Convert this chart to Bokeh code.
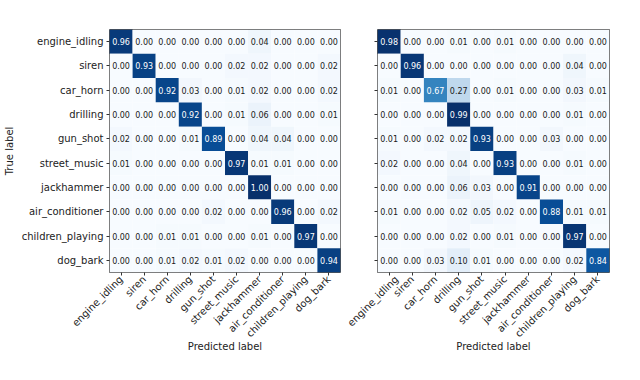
import math
from bokeh.plotting import figure
from bokeh.layouts import row
from bokeh.models import FactorRange, ColumnDataSource, LinearColorMapper
from bokeh.core.properties import value
from bokeh.palettes import Blues256
from bokeh.embed import file_html
from bokeh.resources import INLINE

classes = ["engine_idling", "siren", "car_horn", "drilling", "gun_shot",
           "street_music", "jackhammer", "air_conditioner", "children_playing", "dog_bark"]

cm_left = [
    [0.96, 0.00, 0.00, 0.00, 0.00, 0.00, 0.04, 0.00, 0.00, 0.00],
    [0.00, 0.93, 0.00, 0.00, 0.00, 0.02, 0.02, 0.00, 0.00, 0.02],
    [0.00, 0.00, 0.92, 0.03, 0.00, 0.01, 0.02, 0.00, 0.00, 0.02],
    [0.00, 0.00, 0.00, 0.92, 0.00, 0.01, 0.06, 0.00, 0.00, 0.01],
    [0.02, 0.00, 0.00, 0.01, 0.89, 0.00, 0.04, 0.04, 0.00, 0.00],
    [0.01, 0.00, 0.00, 0.00, 0.00, 0.97, 0.01, 0.01, 0.00, 0.00],
    [0.00, 0.00, 0.00, 0.00, 0.00, 0.00, 1.00, 0.00, 0.00, 0.00],
    [0.00, 0.00, 0.00, 0.00, 0.02, 0.00, 0.00, 0.96, 0.00, 0.02],
    [0.00, 0.00, 0.01, 0.01, 0.00, 0.00, 0.01, 0.00, 0.97, 0.00],
    [0.00, 0.00, 0.01, 0.02, 0.01, 0.02, 0.00, 0.00, 0.00, 0.94],
]

cm_right = [
    [0.98, 0.00, 0.00, 0.01, 0.00, 0.01, 0.00, 0.00, 0.00, 0.00],
    [0.00, 0.96, 0.00, 0.00, 0.00, 0.00, 0.00, 0.00, 0.04, 0.00],
    [0.01, 0.00, 0.67, 0.27, 0.00, 0.01, 0.00, 0.00, 0.03, 0.01],
    [0.00, 0.00, 0.00, 0.99, 0.00, 0.00, 0.00, 0.00, 0.01, 0.00],
    [0.01, 0.00, 0.02, 0.02, 0.93, 0.00, 0.00, 0.03, 0.00, 0.00],
    [0.02, 0.00, 0.00, 0.04, 0.00, 0.93, 0.00, 0.00, 0.01, 0.00],
    [0.00, 0.00, 0.00, 0.06, 0.03, 0.00, 0.91, 0.00, 0.00, 0.00],
    [0.01, 0.00, 0.00, 0.02, 0.05, 0.02, 0.00, 0.88, 0.01, 0.01],
    [0.00, 0.00, 0.00, 0.02, 0.00, 0.01, 0.00, 0.00, 0.97, 0.00],
    [0.00, 0.00, 0.03, 0.10, 0.01, 0.00, 0.00, 0.00, 0.02, 0.84],
]

FONT = "DejaVu Sans"


def make_cm(cm, width, border_left, border_right, show_ylabels):
    xs, ys, vals, labels, tcolors = [], [], [], [], []
    vmax = max(max(r) for r in cm)
    for i, true_c in enumerate(classes):
        for j, pred_c in enumerate(classes):
            v = cm[i][j]
            xs.append(pred_c)
            ys.append(true_c)
            vals.append(v)
            labels.append(f"{v:.2f}")
            tcolors.append("white" if v > vmax / 2 else "#1a1a1a")
    src = ColumnDataSource(dict(x=xs, y=ys, v=vals, t=labels, tc=tcolors))
    mapper = LinearColorMapper(palette=list(Blues256[::-1]), low=0, high=vmax)

    p = figure(width=width, height=372,
               x_range=FactorRange(*classes), y_range=FactorRange(*classes[::-1]),
               min_border_left=border_left, min_border_right=border_right,
               min_border_top=29, min_border_bottom=100,
               output_backend="svg", toolbar_location=None)
    p.rect("x", "y", 1, 1, source=src,
           fill_color={"field": "v", "transform": mapper}, line_color=None)
    p.text("x", "y", text="t", source=src, text_color="tc",
           text_align="center", text_baseline="middle",
           text_font_size="8px", text_font=value(FONT))

    p.grid.visible = False
    p.outline_line_color = "#555555"
    p.outline_line_width = 1
    p.background_fill_color = "white"
    p.border_fill_color = "white"

    for ax in (p.xaxis[0], p.yaxis[0]):
        ax.axis_line_color = None
        ax.major_tick_in = 0
        ax.major_tick_out = 3
        ax.major_tick_line_color = "#333333"
        ax.minor_tick_line_color = None
        ax.major_label_text_font = FONT
        ax.major_label_text_font_size = "10px"
        ax.major_label_text_color = "#222222"
        ax.major_label_standoff = 3
        ax.axis_label_text_font = FONT
        ax.axis_label_text_font_size = "10px"
        ax.axis_label_text_font_style = "normal"
        ax.axis_label_text_color = "#222222"
        ax.separator_line_color = None
        ax.group_text_color = None

    p.xaxis.major_label_orientation = math.pi / 4
    p.xaxis.major_label_standoff = 2
    p.xaxis.axis_label = "Predicted label"
    p.xaxis.axis_label_standoff = -5
    if show_ylabels:
        p.yaxis.axis_label = "True label"
        p.yaxis.axis_label_standoff = 4
    else:
        p.yaxis.major_label_text_color = None
        p.yaxis.major_label_standoff = 0
    return p


p1 = make_cm(cm_left, 345, 108, 5, True)
p2 = make_cm(cm_right, 287, 32, 23, False)

layout = row(p1, p2)
open("out.html", "w").write(file_html(layout, INLINE))
